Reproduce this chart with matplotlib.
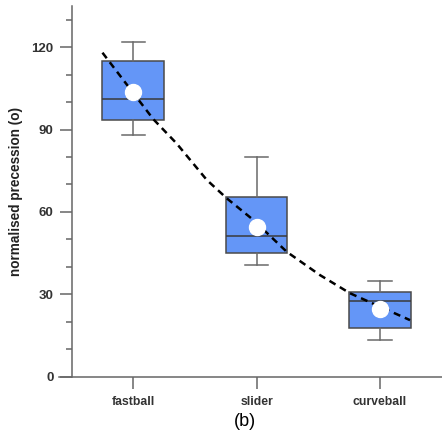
import matplotlib
matplotlib.use("Agg")
import matplotlib.pyplot as plt

categories = ["fastball", "slider", "curveball"]
whisker_low = [88.0, 40.8, 13.4]
q1 = [93.5, 45.0, 17.9]
median = [101.2, 51.1, 27.5]
q3 = [114.9, 65.5, 30.9]
whisker_high = [122.0, 80.0, 34.9]
means = [103.5, 54.6, 24.8]

trend_x = [-0.25, 0.0, 0.162, 0.35, 0.595, 0.757, 0.973, 1.244, 1.514, 1.757, 2.0, 2.244]
trend_y = [118.0, 103.3, 93.8, 85.0, 71.7, 65.0, 57.1, 45.5, 37.0, 30.4, 25.5, 20.6]

yticks = [0, 30, 60, 90, 120]
yminor = [10, 20, 40, 50, 70, 80, 100, 110, 130]

plt.rcParams['font.family'] = ['Liberation Sans', 'DejaVu Sans']

fig = plt.figure(figsize=(4.42, 4.36), dpi=100)
ax = fig.add_axes([59.3 / 442, 59.3 / 436, (441.6 - 59.3) / 442, (376.7 - 6) / 436])

stats = []
for i in range(len(categories)):
    stats.append(dict(whislo=whisker_low[i], q1=q1[i], med=median[i], q3=q3[i],
                      whishi=whisker_high[i], mean=means[i], label=categories[i]))

bp = ax.bxp(stats, positions=range(len(categories)), widths=0.5, patch_artist=True,
            showmeans=True, showfliers=False,
            boxprops=dict(facecolor="#6496F7", edgecolor="#4a4a4a", linewidth=1.1),
            medianprops=dict(color="#3a3a3a", linewidth=1.1),
            whiskerprops=dict(color="#6a6a6a", linewidth=1.1),
            capprops=dict(color="#6a6a6a", linewidth=1.1),
            capwidths=0.19,
            meanprops=dict(marker="o", markerfacecolor="white", markeredgecolor="white",
                           markersize=11.5))
for m in bp["means"]:
    m.set_zorder(5)

ax.plot(trend_x, trend_y, color="black", linewidth=1.8, dashes=(2.8, 2.0), zorder=4)

ax.set_xlim(-0.6, 2.5)
ax.set_ylim(0, 135)

for s in ["top", "right"]:
    ax.spines[s].set_visible(False)
ax.spines["left"].set_position(("data", -0.5))
for s in ["left", "bottom"]:
    ax.spines[s].set_color("#666666")
    ax.spines[s].set_linewidth(1.1)

ax.set_yticks(yticks)
ax.set_yticklabels([str(v) for v in yticks])
ax.set_yticks(yminor, minor=True)
ax.set_xticks(range(len(categories)))
ax.set_xticklabels(categories)

ax.tick_params(axis="y", which="major", length=8.6, width=1.1, color="#666666",
               pad=4.3, labelsize=9.5, labelcolor="#333333")
ax.tick_params(axis="y", which="minor", length=4.3, width=1.1, color="#666666")
ax.tick_params(axis="x", which="major", length=8.6, width=1.1, color="#666666",
               pad=5, labelsize=8.8, labelcolor="#333333")
for lab in ax.get_xticklabels() + ax.get_yticklabels():
    lab.set_fontweight("bold")

ax.set_ylabel("normalised precession (o)", fontsize=9.8, fontweight="bold", color="#222222")
ax.yaxis.set_label_coords(-0.096, 0.5)

fig.text(245 / 442, 1 - 421.7 / 436, "(b)", fontsize=13, ha="center", va="center",
         color="black")

fig.savefig("out.png", dpi=100)
